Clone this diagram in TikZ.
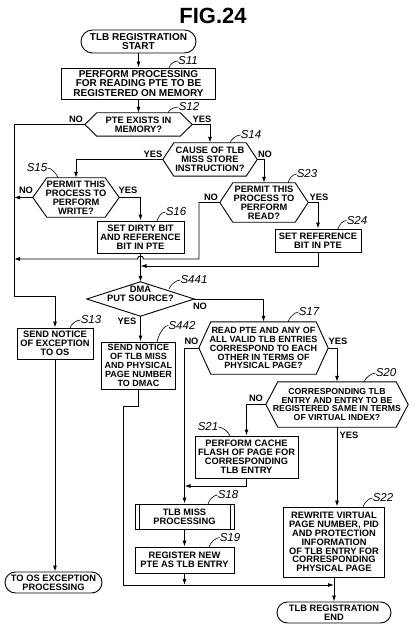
\documentclass[tikz,border=0pt]{standalone}
\usepackage{fontspec}
\setmainfont{Liberation Sans}
\usetikzlibrary{arrows.meta,calc}
\newcommand\hexshape[2]{\draw[ln] (#1.west) -- ([xshift=#2pt]#1.north west) -- ([xshift=-#2pt]#1.north east) -- (#1.east) -- ([xshift=-#2pt]#1.south east) -- ([xshift=#2pt]#1.south west) -- cycle;}
\tikzset{
  ln/.style={line width=0.9pt},
  conn/.style={line width=0.9pt,-{Latex[length=6pt,width=4pt]}},
  lead/.style={line width=0.6pt},
  txt/.style={rectangle,inner sep=0pt,align=center,font=\bfseries\fontsize{9.3}{8.9}\selectfont},
  box/.style={txt,draw,line width=0.9pt},
  term/.style={box,rounded corners=10.5pt},
  lbl/.style={inner sep=0pt,font=\itshape\fontsize{11.5}{12}\selectfont},
  yn/.style={inner sep=0pt,font=\bfseries\fontsize{9.3}{9}\selectfont},
}
\begin{document}
\begin{tikzpicture}[x=1pt,y=-1pt]
\useasboundingbox[fill=white] (0,0) rectangle (414,628);
\node[inner sep=0pt,font=\bfseries\fontsize{22}{22}\selectfont] (title) at (213,16) {FIG.24};
% nodes
\node[term,rounded corners=11.5pt,minimum width=115pt,minimum height=23pt,font=\bfseries\fontsize{10}{9.3}\selectfont] (start) at (138.5,41.5) {TLB REGISTRATION\\START};
\node[box,minimum width=154pt,minimum height=31pt,font=\bfseries\fontsize{10}{9.3}\selectfont] (s11) at (138.5,83.5) {PERFORM PROCESSING\\FOR READING PTE TO BE\\REGISTERED ON MEMORY};
\node[txt,minimum width=107pt,minimum height=23pt] (s12) at (138.5,124.5) {PTE EXISTS IN\\MEMORY?};
\hexshape{s12}{12}
\node[txt,minimum width=94pt,minimum height=33pt] (s14) at (210,159.5) {CAUSE OF TLB\\MISS STORE\\INSTRUCTION?};
\hexshape{s14}{11}
\node[txt,minimum width=86pt,minimum height=39pt] (s15) at (76,197.5) {PERMIT THIS\\PROCESS TO\\PERFORM\\WRITE?};
\hexshape{s15}{14}
\node[box,minimum width=87pt,minimum height=32pt] (s16) at (140.5,237) {SET DIRTY BIT\\AND REFERENCE\\BIT IN PTE};
\node[txt,minimum width=88pt,minimum height=39pt] (s23) at (264,202.5) {PERMIT THIS\\PROCESS TO\\PERFORM\\READ?};
\hexshape{s23}{13}
\node[box,minimum width=86pt,minimum height=23pt] (s24) at (318,240.5) {SET REFERENCE\\BIT IN PTE};
\node[txt,minimum width=107pt,minimum height=34pt] (s441) at (140.5,299) {};
\draw[ln] (s441.west) -- (s441.north) -- (s441.east) -- (s441.south) -- cycle;
\node[txt] (s441t) at (140.5,293.5) {DMA\\PUT SOURCE?};
\node[box,minimum width=76pt,minimum height=31pt] (s13) at (55,343.5) {SEND NOTICE\\OF EXCEPTION\\TO OS};
\node[box,minimum width=74pt,minimum height=47pt,font=\bfseries\fontsize{9}{8.9}\selectfont] (s442) at (138.5,365.5) {SEND NOTICE\\OF TLB MISS\\AND PHYSICAL\\PAGE NUMBER\\TO DMAC};
\node[txt,minimum width=129pt,minimum height=52pt,font=\bfseries\fontsize{9}{8.9}\selectfont] (s17) at (263.5,348) {READ PTE AND ANY OF\\ALL VALID TLB ENTRIES\\CORRESPOND TO EACH\\OTHER IN TERMS OF\\PHYSICAL PAGE?};
\hexshape{s17}{12}
\node[txt,minimum width=142pt,minimum height=45pt,font=\bfseries\fontsize{8.7}{8.9}\selectfont] (s20) at (337,404.5) {CORRESPONDING TLB\\ENTRY AND ENTRY TO BE\\REGISTERED SAME IN TERMS\\OF VIRTUAL INDEX?};
\hexshape{s20}{12}
\node[box,minimum width=103pt,minimum height=42pt] (s21) at (246.5,457) {PERFORM CACHE\\FLASH OF PAGE FOR\\CORRESPONDING\\TLB ENTRY};
\node[box,minimum width=99pt,minimum height=25pt] (s18) at (184.5,516.5) {TLB MISS\\PROCESSING};
\draw[ln] ([xshift=4.5pt]s18.north west) -- ([xshift=4.5pt]s18.south west);
\draw[ln] ([xshift=-4.5pt]s18.north east) -- ([xshift=-4.5pt]s18.south east);
\node[box,minimum width=99pt,minimum height=26pt] (s19) at (184.5,560) {REGISTER NEW\\PTE AS TLB ENTRY};
\node[box,minimum width=101pt,minimum height=70pt] (s22) at (334,542) {REWRITE VIRTUAL\\PAGE NUMBER, PID\\AND PROTECTION\\INFORMATION\\OF TLB ENTRY FOR\\CORRESPONDING\\PHYSICAL PAGE};
\node[term,minimum width=97pt,minimum height=21pt] (toos) at (53.5,582.5) {TO OS EXCEPTION\\PROCESSING};
\node[term,minimum width=114pt,minimum height=21pt] (end) at (334,612.5) {TLB REGISTRATION\\END};
% corner coordinates
\coordinate (la) at (14,124.5);
\coordinate (lb) at (14,296.5);
\coordinate (c23) at (199,259);
\coordinate (c24) at (318,266);
\coordinate (c442a) at (123,406);
\coordinate (c442b) at (123,585);
\coordinate (c21) at (246.5,486);
% connectors
\draw[conn] (start) -- (s11);
\draw[conn] (s11) -- (s12);
\draw[conn] (s12.east) -| (s14.north);
\draw[conn] (s12.west) -- (la) -- (lb) -| (s13.north);
\draw[conn] (s14.west) -| (s15.north);
\draw[conn] (s14.east) -| (s23.north);
\draw[conn] (s15.west) -- (s15.west -| la);
\draw[conn] (s15.east) -| (s16.north);
\draw[conn] (s23.east) -| (s24.north);
\draw[conn] (s23.west) -| (c23) -- ([xshift=3pt]c23 -| s16.south) arc[start angle=0,end angle=180,radius=3pt] -- (c23 -| la);
\draw[conn] (s24.south) -- (c24) -- (c24 -| s16.south);
\draw[conn] (s16.south) -- (s441.north);
\draw[conn] (s441.east) -| (s17.north);
\draw[conn] (s441.south) -- (s441.south |- s442.north);
\draw[conn] (s13.south) -- (s13.south |- toos.north);
\draw[conn] (s442.south) |- (c442a) -- (c442b) -- (c442b -| s22.south);
\draw[conn] (s17.west) -| (s18.north);
\draw[conn] (s17.east) -| (s20.north);
\draw[conn] (s20.west) -| (s21.north);
\draw[conn] (s20.south) -- (s20.south |- s22.north);
\draw[conn] (s21.south) -- (c21) -- (c21 -| s18.north);
\draw[conn] (s18) -- (s19);
\draw[conn] (s19.south) -- (s19.south |- c442b);
\draw[conn] (s22) -- (end);
% yes / no labels
\node[yn] (n12) at (76,119) {NO};
\node[yn] (y12) at (202,119) {YES};
\node[yn] (y14) at (153,154) {YES};
\node[yn] (n14) at (265,154) {NO};
\node[yn] (n15) at (26,190.5) {NO};
\node[yn] (y15) at (128,190.5) {YES};
\node[yn] (n23) at (211,197) {NO};
\node[yn] (y23) at (319,197) {YES};
\node[yn] (n441) at (200,306) {NO};
\node[yn] (y441) at (127,321) {YES};
\node[yn] (n17) at (191.5,341.5) {NO};
\node[yn] (y17) at (338,341.5) {YES};
\node[yn] (n20) at (256,398.5) {NO};
\node[yn] (y20) at (349,435) {YES};
% step labels
\node[lbl] (l11) at (188,61) {S11};
\draw[lead] (l11.west) .. controls +(-4,0) and +(1,-4) .. (169,68);
\node[lbl] (l12) at (189,107) {S12};
\draw[lead] (l12.west) .. controls +(-4,0) and +(1,-4) .. (168,113);
\node[lbl] (l14) at (251,135) {S14};
\draw[lead] (l14.west) .. controls +(-4,0) and +(1,-4) .. (230,143);
\node[lbl] (l15) at (37,168) {S15};
\draw[lead] (l15.east) .. controls +(4,0) and +(-1,-4) .. (58,178);
\node[lbl] (l16) at (176,212) {S16};
\draw[lead] (l16.west) .. controls +(-4,0) and +(1,-4) .. (157,221);
\node[lbl] (l23) at (307,174) {S23};
\draw[lead] (l23.west) .. controls +(-4,0) and +(1,-4) .. (288,183);
\node[lbl] (l24) at (357,220.5) {S24};
\draw[lead] (l24.west) .. controls +(-4,0) and +(1,-4) .. (338,229);
\node[lbl] (l441) at (194,280) {S441};
\draw[lead] (l441.west) .. controls +(-4,0) and +(1,-4) .. (169,289);
\node[lbl] (l13) at (91,320) {S13};
\draw[lead] (l13.west) .. controls +(-4,0) and +(1,-4) .. (70,328);
\node[lbl] (l442) at (182,325.5) {S442};
\draw[lead] (l442.west) .. controls +(-5,0) and +(1,-6) .. (157,342);
\node[lbl] (l17) at (309,312) {S17};
\draw[lead] (l17.west) .. controls +(-4,0) and +(1,-4) .. (288,322);
\node[lbl] (l20) at (386,373) {S20};
\draw[lead] (l20.west) .. controls +(-4,0) and +(1,-4) .. (364,382);
\node[lbl] (l21) at (208,427) {S21};
\draw[lead] (l21.east) .. controls +(4,0) and +(-1,-4) .. (230,436);
\node[lbl] (l18) at (228,495) {S18};
\draw[lead] (l18.west) .. controls +(-4,0) and +(1,-4) .. (208,504);
\node[lbl] (l19) at (230,537.5) {S19};
\draw[lead] (l19.west) .. controls +(-4,0) and +(1,-4) .. (209,547);
\node[lbl] (l22) at (383,498) {S22};
\draw[lead] (l22.west) .. controls +(-4,0) and +(1,-4) .. (363,507);
\end{tikzpicture}
\end{document}
